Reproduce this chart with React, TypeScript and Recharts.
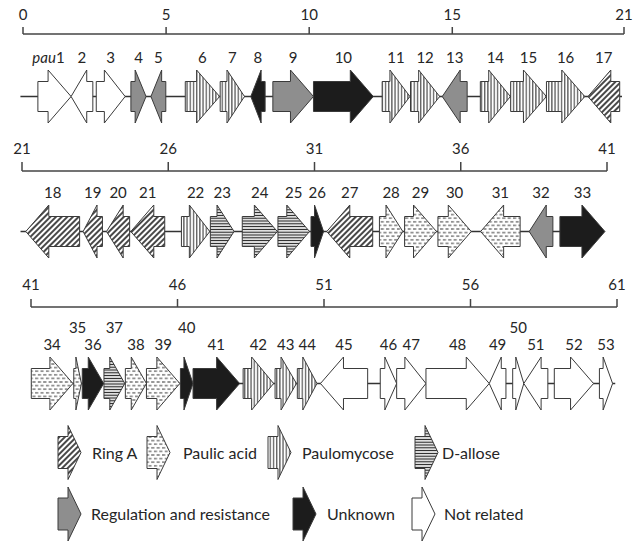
import { ComposedChart, Legend, ReferenceArea, XAxis, YAxis } from "recharts";

type Strand = 1 | -1;
type Cat = "ringA" | "pa" | "pmc" | "dallose" | "reg" | "unk" | "none";
// label, start (kb), end (kb), strand, category
type Gene = [string, number, number, Strand, Cat];

const ROW1_TICKS = [0, 5, 10, 15, 21];
const ROW2_TICKS = [21, 26, 31, 36, 41];
const ROW3_TICKS = [41, 46, 51, 56, 61];

const ROW1_BACKBONE = [-0.09, 20.93];
const ROW2_BACKBONE = [20.95, 40.9];
const ROW3_BACKBONE = [41.0, 60.94];

const ROW1_GENES: Gene[] = [
  ["pau1", 0.52, 1.68, 1, "none"],
  ["2", 1.68, 2.44, -1, "none"],
  ["3", 2.56, 3.57, 1, "none"],
  ["4", 3.77, 4.3, 1, "reg"],
  ["5", 4.47, 4.99, -1, "reg"],
  ["6", 5.67, 6.87, 1, "pmc"],
  ["7", 6.89, 7.74, 1, "pmc"],
  ["8", 7.96, 8.46, -1, "unk"],
  ["9", 8.73, 10.15, 1, "reg"],
  ["10", 10.15, 12.24, 1, "unk"],
  ["11", 12.55, 13.52, 1, "pmc"],
  ["12", 13.54, 14.56, 1, "pmc"],
  ["13", 14.65, 15.52, -1, "reg"],
  ["14", 15.98, 17.03, 1, "pmc"],
  ["15", 17.04, 18.29, 1, "pmc"],
  ["16", 18.29, 19.63, 1, "pmc"],
  ["17", 19.74, 20.85, -1, "ringA"],
];

const ROW2_GENES: Gene[] = [
  ["18", 21.13, 22.97, -1, "ringA"],
  ["19", 23.09, 23.75, -1, "ringA"],
  ["20", 23.89, 24.68, -1, "ringA"],
  ["21", 24.72, 25.88, -1, "ringA"],
  ["22", 26.45, 27.42, 1, "pmc"],
  ["23", 27.44, 28.25, 1, "dallose"],
  ["24", 28.53, 29.73, 1, "dallose"],
  ["25", 29.75, 30.83, 1, "dallose"],
  ["26", 30.88, 31.31, 1, "unk"],
  ["27", 31.42, 32.99, -1, "ringA"],
  ["28", 33.22, 34.02, 1, "pa"],
  ["29", 34.08, 35.17, 1, "pa"],
  ["30", 35.22, 36.36, 1, "pa"],
  ["31", 36.68, 38.03, -1, "pa"],
  ["32", 38.34, 39.15, -1, "reg"],
  ["33", 39.39, 40.93, 1, "unk"],
];

const ROW3_GENES: Gene[] = [
  ["34", 41.01, 42.43, 1, "pa"],
  ["35", 42.46, 42.72, 1, "pa"],
  ["36", 42.75, 43.48, 1, "unk"],
  ["37", 43.49, 44.2, 1, "dallose"],
  ["38", 44.22, 44.94, 1, "pa"],
  ["39", 44.94, 46.08, 1, "pa"],
  ["40", 46.1, 46.53, 1, "unk"],
  ["41", 46.53, 48.12, 1, "unk"],
  ["42", 48.24, 49.28, 1, "pmc"],
  ["43", 49.33, 50.06, 1, "pmc"],
  ["44", 50.09, 50.76, 1, "pmc"],
  ["45", 50.88, 52.49, -1, "none"],
  ["46", 52.92, 53.48, 1, "none"],
  ["47", 53.48, 54.48, 1, "none"],
  ["48", 54.48, 56.64, 1, "none"],
  ["49", 56.64, 57.21, -1, "none"],
  ["50", 57.44, 57.82, 1, "none"],
  ["51", 57.82, 58.64, -1, "none"],
  ["52", 58.86, 60.2, 1, "none"],
  ["53", 60.4, 60.85, 1, "none"],
];

// labels lifted above their neighbours (crowded genes)
const RAISED_LABELS = ["35", "37", "40", "50"];

const LEGEND_CATS: Cat[] = ["ringA", "pa", "pmc", "dallose", "reg", "unk", "none"];
const LEGEND_LABELS = [
  "Ring A",
  "Paulic acid",
  "Paulomycose",
  "D-allose",
  "Regulation and resistance",
  "Unknown",
  "Not related",
];

const FONT = "Lato, 'Open Sans', sans-serif";
const TEXT = "#262626";
const EDGE = "#3a3a3a";

const FILLS: Record<Cat, string> = {
  ringA: "url(#pat-ringA)",
  pa: "url(#pat-pa)",
  pmc: "url(#pat-pmc)",
  dallose: "url(#pat-dallose)",
  reg: "#8e8e8e",
  unk: "#1c1c1c",
  none: "#ffffff",
};

const ARROW_H = 53;
const BODY_H = 30;
const HEAD_MAX = 23;

function arrowPath(x: number, w: number, top: number, h: number, bodyH: number, head: number, strand: Strand) {
  const mid = top + h / 2;
  const bt = mid - bodyH / 2;
  const bb = mid + bodyH / 2;
  const bottom = top + h;
  if (strand === 1) {
    const hb = x + w - head;
    return `M${x},${bt}L${hb},${bt}L${hb},${top}L${x + w},${mid}L${hb},${bottom}L${hb},${bb}L${x},${bb}Z`;
  }
  const hb = x + head;
  return `M${x + w},${bt}L${hb},${bt}L${hb},${top}L${x},${mid}L${hb},${bottom}L${hb},${bb}L${x + w},${bb}Z`;
}

function GeneArrow(props: any) {
  const { gene, x, y, width, height } = props;
  const [label, , , strand, cat] = gene as Gene;
  const top = y + height - ARROW_H;
  const head = Math.min(width * 0.72, HEAD_MAX);
  const raised = RAISED_LABELS.includes(label);
  const isPau = label.startsWith("pau");
  // the italic prefix sits left of the gene centre
  const cx = x + width / 2 - (isPau ? 6 : 0);
  return (
    <g>
      <path
        d={arrowPath(x, width, top, ARROW_H, BODY_H, head, strand)}
        fill={FILLS[cat]}
        stroke={EDGE}
        strokeWidth={1}
        strokeLinejoin="miter"
      />
      <text
        x={cx}
        y={top - (raised ? 24 : 7)}
        textAnchor="middle"
        fontFamily={FONT}
        fontSize={15}
        fill={TEXT}
      >
        {isPau ? (
          <>
            <tspan fontStyle="italic">pau</tspan>
            {label.slice(3)}
          </>
        ) : (
          label
        )}
      </text>
    </g>
  );
}

function Backbone(props: any) {
  const { x, y, width, height } = props;
  const mid = y + height - ARROW_H / 2;
  return <line x1={x} x2={x + width} y1={mid} y2={mid} stroke="#333" strokeWidth={1.5} />;
}

function Patterns() {
  return (
    <svg width={0} height={0} style={{ position: "absolute" }}>
      <defs>
        <pattern id="pat-ringA" width={4} height={4} patternUnits="userSpaceOnUse" patternTransform="rotate(45)">
          <rect width={4} height={4} fill="#fff" />
          <line x1={1} y1={0} x2={1} y2={4} stroke="#1a1a1a" strokeWidth={1.6} />
        </pattern>
        <pattern id="pat-pa" width={5.4} height={7.2} patternUnits="userSpaceOnUse">
          <rect width={5.4} height={7.2} fill="#fff" />
          <line x1={0} y1={1.8} x2={3.2} y2={1.8} stroke="#4a4a4a" strokeWidth={1.1} />
          <line x1={2.7} y1={5.4} x2={5.4} y2={5.4} stroke="#4a4a4a" strokeWidth={1.1} />
          <line x1={0} y1={5.4} x2={0.5} y2={5.4} stroke="#4a4a4a" strokeWidth={1.1} />
        </pattern>
        <pattern id="pat-pmc" width={3.2} height={4} patternUnits="userSpaceOnUse">
          <rect width={3.2} height={4} fill="#fff" />
          <line x1={1.5} y1={0} x2={1.5} y2={4} stroke="#2a2a2a" strokeWidth={1} />
        </pattern>
        <pattern id="pat-dallose" width={4} height={2.8} patternUnits="userSpaceOnUse">
          <rect width={4} height={2.8} fill="#fff" />
          <line x1={0} y1={1.4} x2={4} y2={1.4} stroke="#1e1e1e" strokeWidth={1.2} />
        </pattern>
      </defs>
    </svg>
  );
}

// legend layout: icon left, text left, row
const LEGEND_ICON_X = [58, 147, 268, 415, 58, 293, 412];
const LEGEND_TEXT_X = [92, 183, 302, 442, 91, 327, 444];
const LEGEND_ROW = [0, 0, 0, 0, 1, 1, 1];
const LEGEND_ROW_Y = [42.5, 104];
const LEGEND_H = 132;

function GeneLegend() {
  return (
    <svg width={638} height={LEGEND_H}>
      {LEGEND_CATS.map((cat, i) => {
        const cy = LEGEND_ROW_Y[LEGEND_ROW[i]];
        const h = 54;
        return (
          <g key={cat}>
            <path
              d={arrowPath(LEGEND_ICON_X[i], 23, cy - h / 2, h, 32, 13, 1)}
              fill={FILLS[cat]}
              stroke={EDGE}
              strokeWidth={1}
            />
            <text
              x={LEGEND_TEXT_X[i]}
              y={cy + 6}
              fontFamily={FONT}
              fontSize={16}
              fill={TEXT}
            >
              {LEGEND_LABELS[i]}
            </text>
          </g>
        );
      })}
    </svg>
  );
}

interface RowProps {
  genes: Gene[];
  ticks: number[];
  backbone: number[];
  top: number;
  height: number;
  axisH: number;
  tickSize: number;
  tickMargin: number;
  left: number;
  right: number;
  legend?: boolean;
}

function GeneRow(p: RowProps) {
  const data = p.genes.map((g) => ({ x: g[1], y: 0.5 }));
  return (
    <div style={{ position: "absolute", left: 0, top: p.top }}>
      <ComposedChart
        width={638}
        height={p.height}
        data={data}
        margin={{ top: 0, right: p.right, bottom: p.legend ? 0 : 7, left: p.left }}
      >
        <XAxis
          type="number"
          orientation="top"
          dataKey="x"
          domain={[p.ticks[0], p.ticks[p.ticks.length - 1]]}
          allowDataOverflow
          ticks={p.ticks}
          interval={0}
          height={p.axisH}
          tickSize={p.tickSize}
          tickMargin={p.tickMargin}
          axisLine={{ stroke: "#444", strokeWidth: 1.5 }}
          tickLine={{ stroke: "#444", strokeWidth: 1.5 }}
          tick={{ fill: TEXT, fontSize: 15, fontFamily: FONT }}
        />
        <YAxis type="number" dataKey="y" domain={[0, 1]} allowDataOverflow hide />
        <ReferenceArea
          x1={p.backbone[0]}
          x2={p.backbone[1]}
          y1={0}
          y2={1}
          ifOverflow="visible"
          shape={(sp: any) => <Backbone {...sp} />}
        />
        {p.genes.map((g) => (
          <ReferenceArea
            key={g[0]}
            x1={g[1]}
            x2={g[2]}
            y1={0}
            y2={1}
            ifOverflow="visible"
            shape={(sp: any) => <GeneArrow {...sp} gene={g} />}
          />
        ))}
        {p.legend && (
          <Legend
            verticalAlign="bottom"
            wrapperStyle={{ left: 0, width: 638, height: LEGEND_H }}
            content={() => <GeneLegend />}
          />
        )}
      </ComposedChart>
    </div>
  );
}

export default function App() {
  return (
    <div
      style={{
        position: "absolute",
        left: 0,
        top: 0,
        width: 638,
        height: 542,
        background: "#fff",
        overflow: "hidden",
      }}
    >
      <Patterns />
      <GeneRow genes={ROW1_GENES} ticks={ROW1_TICKS} backbone={ROW1_BACKBONE} top={0} height={130} axisH={34} tickSize={7} tickMargin={7} left={23} right={14} />
      <GeneRow genes={ROW2_GENES} ticks={ROW2_TICKS} backbone={ROW2_BACKBONE} top={130} height={135} axisH={41} tickSize={9} tickMargin={8} left={22} right={31} />
      <GeneRow genes={ROW3_GENES} ticks={ROW3_TICKS} backbone={ROW3_BACKBONE} top={265} height={277} axisH={42} tickSize={8} tickMargin={9} left={31} right={21} legend />
    </div>
  );
}
